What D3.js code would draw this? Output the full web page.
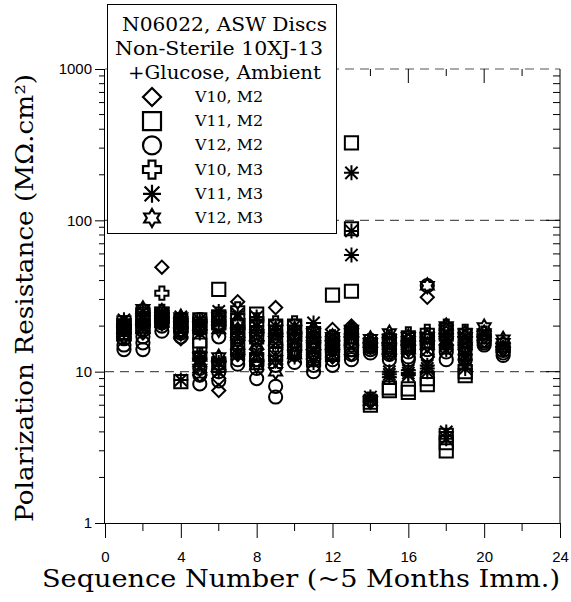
<!DOCTYPE html>
<html>
<head>
<meta charset="utf-8">
<script src="https://cdn.jsdelivr.net/npm/d3@7"></script>
<style>
  body { margin: 0; background: #fff; }
  text { fill: #000; }
</style>
</head>
<body>
<svg id="chart" width="571" height="602"></svg>
<script>
// sequence numbers 1..21, several readings per sequence for each vessel/method
const seqNums = d3.range(1, 22);
const legendTitle = ['N06022, ASW Discs', 'Non-Sterile 10XJ-13', '+Glucose, Ambient'];
const seriesNames = ['V10, M2', 'V11, M2', 'V12, M2', 'V10, M3', 'V11, M3', 'V12, M3'];
const seriesShapes = ['diamond', 'square', 'circle', 'plus', 'asterisk', 'star'];
const xTicks = [0, 4, 8, 12, 16, 20, 24];
const yTicks = [1, 10, 100, 1000];

const v10m2 = [[17, 19, 20.5], [18, 21, 23], [49, 21, 23], [16.5, 18.5, 20], [9.5, 12, 19, 21],
  [7.5, 9, 20, 22], [29, 16, 13, 19], [14, 16, 19], [26.5, 14, 17], [15, 17, 18.5], [14, 15.5, 17],
  [19, 12.5, 15], [20, 13, 16], [14.5, 15.5, 6.3], [13, 14, 15.5], [14, 15, 16], [31, 15, 12.5, 17],
  [15, 16.5, 18], [14, 15.5, 17], [17, 16], [14.5, 14]];
const v11m2 = [[18, 19.5, 21], [20, 22, 24], [22, 23, 24], [8.6, 20, 21.5], [15, 16, 20, 22],
  [35, 21, 23, 11], [22, 14, 18, 20], [24, 12, 17, 20], [20, 13, 16], [20, 16, 18], [16, 12, 14],
  [32, 13, 15], [325, 88, 34, 14, 16], [6.0, 6.3, 15], [7.5, 7.8, 14], [7.3, 7.7, 15], [8.2, 9, 16],
  [3.0, 3.4, 3.8], [9.4, 10], [], []];
const v12m2 = [[14, 15, 16.5], [14, 15.5, 17], [18.5, 20, 21], [17, 18, 19], [8.3, 9.5, 10.5],
  [8.7, 10, 17], [11.2, 12, 13.5], [9, 10.5, 12], [8, 6.8, 11], [11.5, 13, 14], [10, 11, 12],
  [11, 12, 13], [12, 13, 14], [13.3, 14, 14.5], [12, 13, 13.5], [12, 12.5, 13.5], [37, 13, 14],
  [12, 13.5, 14.5], [12, 13, 14], [15, 15.5, 16], [12.8, 13.3, 13.8]];
const v10m3 = [[19, 21, 17], [21, 25, 19], [33, 25, 22], [22, 19, 20.5], [19, 22, 13], [24, 12, 20],
  [26, 17, 21], [22, 11.5, 18], [21, 15, 18], [21, 14, 17], [19, 13, 16], [17, 14, 16], [19, 15, 17],
  [16, 6.6, 15], [17, 15, 16], [17.8, 15, 16], [18.5, 16, 17.5], [20, 17, 18.5], [18.5, 15, 17],
  [18, 17], [15, 14]];
const v11m3 = [[20, 22, 18], [22, 25, 20], [24, 23, 21.5], [8.8, 23, 21], [22, 18, 12, 20.5],
  [25, 11.5, 21, 10], [24, 13, 19], [23, 13, 20], [18, 12, 20], [20, 12.5, 16], [21, 11.5, 18],
  [16, 13, 14.5], [206, 85, 59, 17, 18.5], [6.8, 6.5, 15], [9.6, 9.2, 10], [9.5, 9.8, 10.2],
  [10, 10.5, 11], [3.6, 4, 16, 14], [10.5, 11, 13, 12], [], []];
const v12m3 = [[19, 21, 17], [19, 26, 22], [21, 25, 23], [18, 23, 21], [12.5, 20, 10.5, 11.5],
  [23, 11, 12.5, 19], [21, 15, 18], [17, 11, 15], [10, 12, 19, 16], [17, 13, 19], [15, 18, 13],
  [15, 17, 16], [18, 16, 19], [16.5, 6.4, 15.5], [18, 14, 16.5], [17, 14, 16], [37, 17, 15],
  [19, 16, 20], [18, 16, 17], [19.7, 18], [16.4, 15.5]];
const seriesValues = [v10m2, v11m2, v12m2, v10m3, v11m3, v12m3];

const svg = d3.select('#chart');
const plotL = 105, plotR = 560, plotT = 69, plotB = 523;

const x = d3.scaleLinear().domain([0, 24]).range([plotL, plotR]);
const y = d3.scaleLog().domain([1, 1000]).range([plotB, plotT]);

// marker outlines, s = half size
function markerPath(shape, s) {
  if (shape === 'diamond') return `M0,${-s}L${s},0L0,${s}L${-s},0Z`;
  if (shape === 'square') return `M${-s},${-s}H${s}V${s}H${-s}Z`;
  if (shape === 'circle') return `M${s},0A${s},${s} 0 1,1 ${-s},0A${s},${s} 0 1,1 ${s},0Z`;
  if (shape === 'plus') {
    const a = s * 0.38;
    return `M${-a},${-s}H${a}V${-a}H${s}V${a}H${a}V${s}H${-a}V${a}H${-s}V${-a}H${-a}Z`;
  }
  if (shape === 'asterisk') {
    const d = s * 0.82;
    return `M0,${-s}V${s}M${-s},0H${s}M${-d},${-d}L${d},${d}M${-d},${d}L${d},${-d}`;
  }
  // six-pointed star
  const pts = d3.range(12).map(i => {
    const ang = -Math.PI / 2 + i * Math.PI / 6;
    const r = i % 2 === 0 ? s : s * 0.577;
    return [r * Math.cos(ang), r * Math.sin(ang)];
  });
  return 'M' + pts.map(p => p.join(',')).join('L') + 'Z';
}

// dashed grid lines at the decades
svg.append('g')
  .selectAll('line')
  .data([10, 100, 1000])
  .join('line')
  .attr('x1', plotL).attr('x2', plotR)
  .attr('y1', d => y(d)).attr('y2', d => y(d))
  .attr('stroke', '#555')
  .attr('stroke-width', 1.2)
  .attr('stroke-dasharray', '9,6');

const minorY = [];
[1, 10, 100].forEach(dec => d3.range(2, 10).forEach(k => minorY.push(dec * k)));
const minorX = [2, 6, 10, 14, 18, 22];

// left axis
const yAxis = d3.axisLeft(y).tickValues(yTicks).tickFormat(d3.format('d')).tickSize(10).tickPadding(3);
const gy = svg.append('g').attr('transform', `translate(${plotL},0)`).call(yAxis);
gy.select('.domain').attr('d', `M-0.5,${plotT}V${plotB}`);
gy.selectAll('text').attr('font-family', 'Liberation Sans, Arial, sans-serif').attr('font-size', 15);
svg.append('g').selectAll('line').data(minorY).join('line')
  .attr('x1', plotL - 6).attr('x2', plotL)
  .attr('y1', d => y(d)).attr('y2', d => y(d))
  .attr('stroke', '#000');

// right axis, ticks inside
svg.append('line').attr('x1', plotR).attr('x2', plotR).attr('y1', plotT).attr('y2', plotB).attr('stroke', '#000');
svg.append('g').selectAll('line').data(minorY.concat([10, 100])).join('line')
  .attr('x1', d => plotR - (yTicks.includes(d) ? 14 : 7)).attr('x2', plotR)
  .attr('y1', d => y(d)).attr('y2', d => y(d))
  .attr('stroke', '#000');

// bottom axis
const xAxis = d3.axisBottom(x).tickValues(xTicks).tickSize(15).tickPadding(13);
const gx = svg.append('g').attr('transform', `translate(0,${plotB})`).call(xAxis);
gx.select('.domain').attr('d', `M${plotL},0.5H${plotR}`);
gx.selectAll('text').attr('font-family', 'Liberation Sans, Arial, sans-serif').attr('font-size', 15);
svg.append('g').selectAll('line').data(minorX).join('line')
  .attr('x1', d => x(d)).attr('x2', d => x(d))
  .attr('y1', plotB).attr('y2', plotB + 8)
  .attr('stroke', '#000');

// top axis, ticks inside (no solid frame line)
svg.append('g').selectAll('line').data(minorX.concat([4, 8, 12, 16, 20])).join('line')
  .attr('x1', d => x(d)).attr('x2', d => x(d))
  .attr('y1', plotT).attr('y2', d => plotT + (d % 4 === 0 ? 14 : 7))
  .attr('stroke', '#000');

// data markers
const points = [];
seriesValues.forEach((vals, si) => {
  vals.forEach((list, i) => list.forEach(v => points.push({ seq: seqNums[i], value: v, shape: seriesShapes[si] })));
});
svg.append('g')
  .selectAll('path')
  .data(points)
  .join('path')
  .attr('transform', d => `translate(${x(d.seq)},${y(d.value)})`)
  .attr('d', d => markerPath(d.shape, d.shape === 'asterisk' || d.shape === 'star' ? 7.5 : 6.6))
  .attr('fill', 'none')
  .attr('stroke', '#000')
  .attr('stroke-width', 2);

// legend box
const lg = svg.append('g');
lg.append('rect')
  .attr('x', 107.5).attr('y', 4.5).attr('width', 229).attr('height', 229)
  .attr('fill', '#fff').attr('stroke', '#000').attr('stroke-width', 1);
const titleSpecs = [[224.5, 31, 205], [219, 55, 208], [224.5, 79, 193]];
lg.selectAll('text.title')
  .data(legendTitle)
  .join('text')
  .attr('class', 'title')
  .attr('x', (d, i) => titleSpecs[i][0])
  .attr('y', (d, i) => titleSpecs[i][1])
  .attr('text-anchor', 'middle')
  .attr('textLength', (d, i) => titleSpecs[i][2])
  .attr('lengthAdjust', 'spacingAndGlyphs')
  .attr('font-family', 'DejaVu Serif, serif')
  .attr('font-size', 19)
  .text(d => d);
const rowY = d3.scaleLinear().domain([0, 5]).range([97, 218]);
seriesNames.forEach((name, i) => {
  lg.append('path')
    .attr('transform', `translate(152,${rowY(i)})`)
    .attr('d', markerPath(seriesShapes[i], 9))
    .attr('fill', 'none')
    .attr('stroke', '#000')
    .attr('stroke-width', 2.2);
  lg.append('text')
    .attr('x', 195).attr('y', rowY(i) + 5)
    .attr('textLength', 68)
    .attr('lengthAdjust', 'spacingAndGlyphs')
    .attr('font-family', 'DejaVu Serif, serif')
    .attr('font-size', 14)
    .text(name);
});

// axis titles
svg.append('text')
  .attr('x', 301).attr('y', 587)
  .attr('text-anchor', 'middle')
  .attr('textLength', 518)
  .attr('lengthAdjust', 'spacingAndGlyphs')
  .attr('font-family', 'DejaVu Serif, serif')
  .attr('font-size', 24)
  .text('Sequence Number (~5 Months Imm.)');
svg.append('text')
  .attr('transform', 'translate(33,298) rotate(-90)')
  .attr('text-anchor', 'middle')
  .attr('textLength', 448)
  .attr('lengthAdjust', 'spacingAndGlyphs')
  .attr('font-family', 'DejaVu Serif, serif')
  .attr('font-size', 24)
  .text('Polarization Resistance (MΩ.cm²)');
</script>
</body>
</html>
